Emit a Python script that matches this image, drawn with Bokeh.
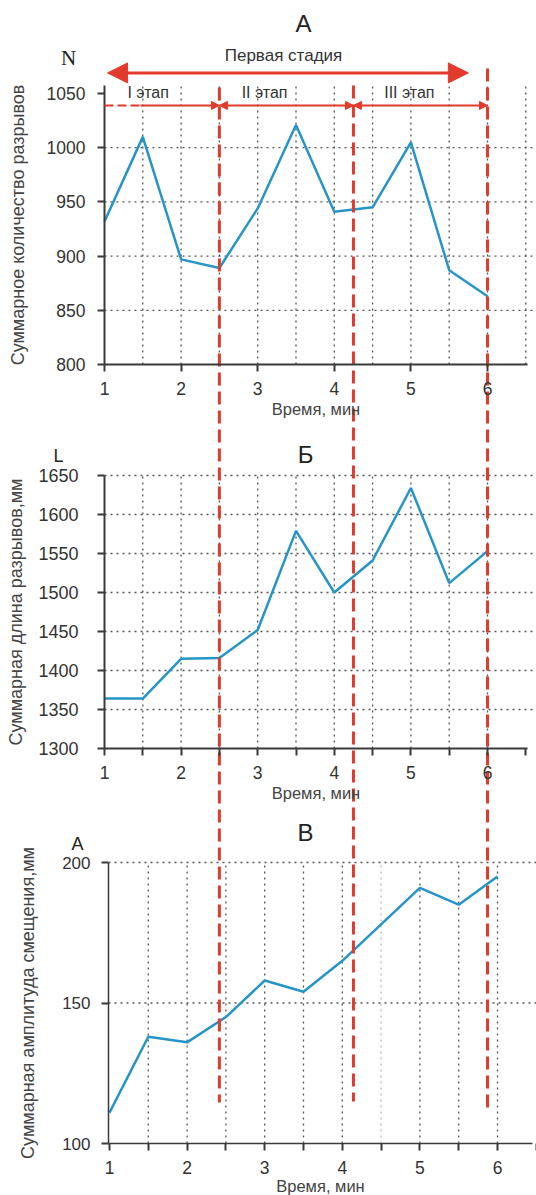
from bokeh.plotting import figure
from bokeh.models import FixedTicker, Arrow, NormalHead, Label, Range1d, LinearAxis
from bokeh.embed import file_html
from bokeh.resources import INLINE

# ---------------- data ----------------
time_min = [1, 1.5, 2, 2.5, 3, 3.5, 4, 4.5, 5, 5.5, 6]
count_n = [932, 1010, 897, 889, 944, 1021, 941, 945, 1005, 887, 863]
length_l = [1364, 1364, 1415, 1416, 1452, 1579, 1500, 1541, 1634, 1512, 1553]
amplitude_a = [111, 138, 136, 145, 158, 154, 165, 178, 191, 185, 195]

stage_bounds = [1.0, 2.5, 4.25, 6.0]
stage_labels = ["I этап", "II этап", "III этап"]
stage_label_x = [1.57, 3.09, 4.98]
stage_title = "Первая стадия"
panel_titles = ["А", "Б", "В"]
panel_letters = ["N", "L", "A"]
y_labels = ["Суммарное количество разрывов",
            "Суммарная длина разрывов,мм",
            "Суммарная амплитуда смещения,мм"]
x_label = "Время, мин"
x_ticks = [1, 2, 3, 4, 5, 6]
half_ticks = [1.5, 2, 2.5, 3, 3.5, 4, 4.5, 5, 5.5, 6]
minor_half = [1.5, 2.5, 3.5, 4.5, 5.5, 6.5]
y_ticks_n = [800, 850, 900, 950, 1000, 1050]
y_ticks_l = [1300, 1350, 1400, 1450, 1500, 1550, 1600, 1650]
y_ticks_a = [100, 150, 200]

# ---------------- style / layout ----------------
BLUE = "#2595c8"
RED = "#e23a2c"
AXIS = "#3a3a3a"
GRID = "#555555"
TXT = "#333333"
FONT = "Liberation Sans"
W, H = 536, 1195


def span_range(v0, p0, v1, p1, pix_lo, pix_hi):
    """Range whose values v0/v1 fall on page pixels p0/p1."""
    k = (v1 - v0) / (p1 - p0)
    return Range1d(start=v0 + (pix_lo - p0) * k, end=v0 + (pix_hi - p0) * k)


p = figure(width=W, height=H,
           x_range=span_range(1, 104, 6, 487, 0, W),      # panels A and B (minutes)
           y_range=Range1d(H, 0),                          # page rows
           x_axis_location=None, y_axis_location=None,
           output_backend="svg", toolbar_location=None,
           min_border=0, outline_line_color=None)
p.grid.visible = False
p.background_fill_color = "white"
p.border_fill_color = "white"
p.extra_x_ranges = {"px": Range1d(0, W),
                    "c": span_range(1, 109, 6, 497, 0, W)}
p.extra_y_ranges = {"a": span_range(800, 364, 1050, 93, H, 0),
                    "b": span_range(1300, 748, 1650, 475, H, 0),
                    "c": span_range(100, 1143, 200, 862, H, 0)}


def style_axis(ax, label_size, standoff):
    ax.axis_line_color = AXIS
    ax.axis_line_width = 2
    ax.major_tick_line_color = AXIS
    ax.major_tick_line_width = 2
    ax.major_tick_in = 0
    ax.major_tick_out = 7
    ax.minor_tick_line_color = AXIS
    ax.minor_tick_line_width = 2
    ax.minor_tick_in = 0
    ax.minor_tick_out = 7
    ax.major_label_text_font = FONT
    ax.major_label_text_color = TXT
    ax.major_label_text_font_size = label_size
    ax.major_label_standoff = standoff
    ax.axis_label_text_font = FONT
    ax.axis_label_text_color = "#444444"
    ax.axis_label_text_font_style = "normal"


def add_panel(xr, yr, x_bounds, y_bounds, x_ticker, y_ticker, ylabel,
              lab_sizes, standoffs, label_standoffs, ylabel_size="18px"):
    ya = LinearAxis(x_range_name=xr, y_range_name=yr, fixed_location=x_bounds[0],
                    bounds=y_bounds, ticker=y_ticker)
    xa = LinearAxis(x_range_name=xr, y_range_name=yr, fixed_location=y_bounds[0],
                    bounds=x_bounds, ticker=x_ticker)
    style_axis(xa, lab_sizes[0], standoffs[0])
    style_axis(ya, lab_sizes[1], standoffs[1])
    xa.axis_label = x_label
    xa.axis_label_text_font_size = "16.5px"
    xa.axis_label_standoff = label_standoffs[0]
    ya.axis_label = ylabel
    ya.axis_label_text_font_size = ylabel_size
    ya.axis_label_standoff = label_standoffs[1]
    p.add_layout(ya, "left")
    p.add_layout(xa, "below")
    return xa, ya


def add_grid(xr, yr, vx, vy0, vy1, hy, hx0, hx1, color=GRID):
    dots = dict(line_color=color, line_dash="2 4", line_width=1.3,
                x_range_name=xr, y_range_name=yr)
    if vx:
        p.segment(x0=vx, y0=[vy0] * len(vx), x1=vx, y1=[vy1] * len(vx), **dots)
    if hy:
        p.segment(x0=[hx0] * len(hy), y0=hy, x1=[hx1] * len(hy), y1=hy, **dots)


def page_label(px, py, text, size, font=FONT, color=TXT):
    p.add_layout(Label(x=px, y=py, x_range_name="px", text=text,
                       text_font=font, text_font_size=size, text_color=color,
                       text_align="center", text_baseline="middle"))


# ================= Panel A =================
add_grid("default", "a", half_ticks + [6.5], 800, 1057.5, y_ticks_n[1:-1], 1, 6.6)
p.line(time_min, count_n, y_range_name="a", line_color=BLUE, line_width=2.5)
add_panel("default", "a", (1, 6.52), (800, 1057.5),
          FixedTicker(ticks=x_ticks), FixedTicker(ticks=y_ticks_n),
          y_labels[0], ("17.5px", "17.5px"), (10, 12), (2, 16))

# ================= Panel B =================
add_grid("default", "b", half_ticks, 1300, 1650, y_ticks_l[1:], 1, 6.6)
p.line(time_min, length_l, y_range_name="b", line_color=BLUE, line_width=2.5)
add_panel("default", "b", (1, 6.52), (1300, 1650),
          FixedTicker(ticks=x_ticks, minor_ticks=minor_half), FixedTicker(ticks=y_ticks_l),
          y_labels[1], ("17.5px", "18px"), (10, 19), (2, 9))

# ================= Panel C =================
add_grid("c", "c", [t for t in half_ticks if t != 4.5], 100, 200, y_ticks_a[1:], 0.987, 6.6)
add_grid("c", "c", [4.5], 100, 200, [], 0, 0, color="#bbbbbb")
p.line(time_min, amplitude_a, x_range_name="c", y_range_name="c",
       line_color=BLUE, line_width=2.5)
xc, yc = add_panel("c", "c", (0.987, 6.45), (100, 200),
                   FixedTicker(ticks=x_ticks, minor_ticks=minor_half),
                   FixedTicker(ticks=y_ticks_a),
                   y_labels[2], ("17.5px", "17px"), (10, 11), (0, 21))
xc.axis_line_width = 1.5
yc.axis_line_width = 1.5

# ================= stage markup =================
arrow_y = 1039
small = dict(size=8, fill_color=RED, line_color=RED)
p.add_layout(Arrow(x_start=stage_bounds[0], y_start=arrow_y, x_end=1.47, y_end=arrow_y,
                   y_range_name="a", end=None, line_color=RED, line_width=2,
                   line_dash="9 4"))
p.add_layout(Arrow(x_start=1.47, y_start=arrow_y, x_end=stage_bounds[1], y_end=arrow_y,
                   y_range_name="a", end=NormalHead(**small), line_color=RED, line_width=2))
for s, e in zip(stage_bounds[1:-1], stage_bounds[2:]):
    p.add_layout(Arrow(x_start=s, y_start=arrow_y, x_end=e, y_end=arrow_y,
                       y_range_name="a", start=NormalHead(**small), end=NormalHead(**small),
                       line_color=RED, line_width=2))
for x, t in zip(stage_label_x, stage_labels):
    p.add_layout(Label(x=x, y=1051, y_range_name="a", text=t, text_font=FONT,
                       text_font_size="16px", text_color=TXT,
                       text_align="center", text_baseline="middle"))

big = dict(size=20, fill_color=RED, line_color=RED)
p.add_layout(Arrow(x_start=1.04, y_start=1069, x_end=5.75, y_end=1069, y_range_name="a",
                   start=NormalHead(**big), end=NormalHead(**big),
                   line_color=RED, line_width=3))

# red dashed stage boundaries crossing all three panels (x in minutes, y in page rows)
p.segment(x0=stage_bounds[1:], y0=[87, 85, 68], x1=stage_bounds[1:], y1=[1102, 1101, 1107],
          line_color=RED, line_width=3, line_dash="13 6")

# ================= texts =================
page_label(283, 55, stage_title, "17px")
page_label(303, 23, panel_titles[0], "24px", color="#222222")
page_label(305, 454, panel_titles[1], "24px", color="#222222")
page_label(305, 832, panel_titles[2], "24px", color="#222222")
page_label(68, 57, panel_letters[0], "21px", font="Liberation Serif", color="#222222")
page_label(58, 455, panel_letters[1], "18px", color="#222222")
page_label(77, 843, panel_letters[2], "18px", color="#222222")

open("out.html", "w").write(file_html(p, INLINE))
